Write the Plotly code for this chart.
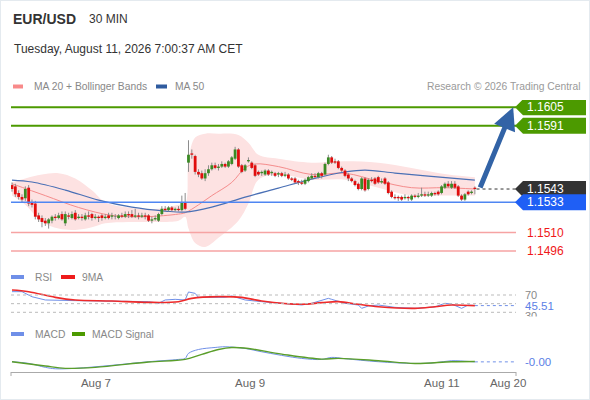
import plotly.graph_objects as go

# ---------------- data ----------------
o = [1.1546,1.1545,1.1540,1.1537,1.1536,1.1544,1.1533,1.1532,1.1523,1.1521,
     1.1519,1.1517,1.1519,1.1522,1.1521,1.1524,1.1517,1.1523,1.1521,1.1525,
     1.1521,1.1522,1.1520,1.1523,1.1524,1.1521,1.1522,1.1523,1.1521,1.1523,
     1.1522,1.1522,1.1521,1.1523,1.1522,1.1524,1.1524,1.1522,1.1523,1.1522,
     1.1523,1.1523,1.1519,1.1520,1.1519,1.1524,1.1528,1.1527,1.1529,1.1527,
     1.1528,1.1527,1.1533,1.1563,1.1570,1.1568,1.1556,1.1555,1.1551,1.1555,
     1.1558,1.1561,1.1559,1.1560,1.1562,1.1560,1.1562,1.1566,1.1573,1.1561,
     1.1557,1.1564,1.1563,1.1561,1.1556,1.1555,1.1554,1.1557,1.1555,1.1555,
     1.1554,1.1555,1.1553,1.1554,1.1551,1.1551,1.1549,1.1548,1.1547,1.1549,
     1.1551,1.1553,1.1552,1.1555,1.1554,1.1562,1.1567,1.1564,1.1564,1.1559,
     1.1557,1.1554,1.1551,1.1549,1.1547,1.1543,1.1551,1.1543,1.1550,1.1551,
     1.1552,1.1548,1.1551,1.1548,1.1541,1.1537,1.1537,1.1537,1.1536,1.1537,
     1.1535,1.1538,1.1537,1.1538,1.1539,1.1538,1.1538,1.1540,1.1541,1.1540,
     1.1544,1.1547,1.1544,1.1547,1.1545,1.1538,1.1535,1.1541,1.1540,1.1544]
h = [1.1548,1.1547,1.1542,1.1539,1.1545,1.1546,1.1535,1.1534,1.1525,1.1523,
     1.1521,1.1521,1.1523,1.1524,1.1525,1.1526,1.1526,1.1525,1.1526,1.1527,
     1.1524,1.1524,1.1525,1.1526,1.1525,1.1524,1.1523,1.1524,1.1524,1.1525,
     1.1525,1.1524,1.1524,1.1525,1.1526,1.1526,1.1527,1.1528,1.1525,1.1525,
     1.1525,1.1524,1.1522,1.1523,1.1525,1.1530,1.1530,1.1530,1.1530,1.1529,
     1.1530,1.1538,1.1540,1.1580,1.1573,1.1569,1.1558,1.1557,1.1558,1.1561,
     1.1563,1.1563,1.1562,1.1564,1.1563,1.1565,1.1568,1.1575,1.1574,1.1562,
     1.1562,1.1567,1.1564,1.1562,1.1557,1.1557,1.1558,1.1558,1.1557,1.1556,
     1.1556,1.1556,1.1556,1.1555,1.1552,1.1552,1.1550,1.1550,1.1551,1.1553,
     1.1555,1.1555,1.1556,1.1556,1.1563,1.1569,1.1568,1.1566,1.1565,1.1560,
     1.1558,1.1555,1.1552,1.1550,1.1548,1.1552,1.1552,1.1551,1.1552,1.1552,
     1.1553,1.1551,1.1552,1.1549,1.1542,1.1539,1.1538,1.1538,1.1539,1.1538,
     1.1539,1.1539,1.1540,1.1544,1.1541,1.1541,1.1541,1.1541,1.1542,1.1546,
     1.1548,1.1549,1.1549,1.1549,1.1546,1.1539,1.1540,1.1542,1.1542,1.1545]
l = [1.1541,1.1537,1.1535,1.1533,1.1534,1.1530,1.1529,1.1520,1.1518,1.1514,
     1.1515,1.1513,1.1517,1.1519,1.1520,1.1519,1.1515,1.1520,1.1520,1.1519,
     1.1520,1.1519,1.1519,1.1520,1.1519,1.1520,1.1518,1.1519,1.1520,1.1520,
     1.1520,1.1520,1.1520,1.1521,1.1521,1.1521,1.1521,1.1521,1.1520,1.1521,
     1.1520,1.1518,1.1517,1.1519,1.1518,1.1523,1.1526,1.1526,1.1526,1.1526,
     1.1526,1.1526,1.1527,1.1556,1.1566,1.1554,1.1552,1.1550,1.1549,1.1553,
     1.1557,1.1558,1.1557,1.1559,1.1559,1.1559,1.1561,1.1565,1.1559,1.1555,
     1.1556,1.1563,1.1558,1.1552,1.1553,1.1553,1.1553,1.1553,1.1553,1.1552,
     1.1552,1.1552,1.1552,1.1550,1.1549,1.1547,1.1546,1.1546,1.1546,1.1548,
     1.1550,1.1551,1.1551,1.1551,1.1553,1.1561,1.1562,1.1562,1.1558,1.1556,
     1.1552,1.1549,1.1548,1.1545,1.1542,1.1542,1.1541,1.1542,1.1548,1.1546,
     1.1547,1.1547,1.1546,1.1539,1.1536,1.1535,1.1534,1.1534,1.1535,1.1534,
     1.1534,1.1536,1.1536,1.1537,1.1537,1.1537,1.1537,1.1538,1.1538,1.1539,
     1.1543,1.1544,1.1543,1.1543,1.1537,1.1534,1.1534,1.1538,1.1539,1.1539]
c = [1.1543,1.1539,1.1537,1.1535,1.1543,1.1532,1.1531,1.1522,1.1520,1.1518,
     1.1517,1.1520,1.1522,1.1521,1.1523,1.1520,1.1524,1.1522,1.1524,1.1520,
     1.1522,1.1521,1.1523,1.1522,1.1521,1.1522,1.1521,1.1521,1.1522,1.1521,
     1.1523,1.1522,1.1523,1.1522,1.1524,1.1523,1.1522,1.1523,1.1522,1.1523,
     1.1522,1.1519,1.1520,1.1521,1.1524,1.1528,1.1527,1.1529,1.1527,1.1528,
     1.1527,1.1533,1.1528,1.1569,1.1569,1.1556,1.1554,1.1551,1.1555,1.1558,
     1.1561,1.1559,1.1560,1.1562,1.1560,1.1564,1.1567,1.1573,1.1560,1.1556,
     1.1561,1.1565,1.1559,1.1553,1.1554,1.1556,1.1557,1.1554,1.1556,1.1553,
     1.1555,1.1553,1.1554,1.1551,1.1550,1.1548,1.1548,1.1547,1.1550,1.1552,
     1.1553,1.1552,1.1555,1.1553,1.1562,1.1567,1.1563,1.1563,1.1559,1.1557,
     1.1553,1.1551,1.1549,1.1546,1.1543,1.1551,1.1542,1.1550,1.1549,1.1547,
     1.1548,1.1549,1.1547,1.1540,1.1537,1.1536,1.1536,1.1535,1.1537,1.1536,
     1.1538,1.1537,1.1538,1.1539,1.1538,1.1539,1.1540,1.1539,1.1539,1.1545,
     1.1547,1.1545,1.1547,1.1544,1.1538,1.1535,1.1539,1.1539,1.1541,1.1543]

ma20_idx = [0, 10, 20, 30, 40, 50, 52, 56, 60, 66, 70, 73, 80, 90, 100, 110, 120, 130, 139]
ma20_val = [1.1547, 1.1538, 1.1529, 1.1523, 1.1522, 1.1524, 1.1525, 1.1531, 1.1538, 1.1548,
            1.1559, 1.1562, 1.1560, 1.1554, 1.1555, 1.1549, 1.1544, 1.1544, 1.1543]

ma50_idx = [0, 6, 16, 26, 36, 46, 52, 60, 70, 80, 90, 100, 106, 115, 125, 139]
ma50_val = [1.15498, 1.15483, 1.15422, 1.15346, 1.15293, 1.15263, 1.15255, 1.15293, 1.15369,
            1.15437, 1.15505, 1.15559, 1.15574, 1.15551, 1.15528, 1.15498]

bb_idx = [0, 4, 9, 14, 19, 24, 28, 35, 44, 50, 52, 53, 55, 58, 62, 68, 71, 74, 80, 90, 100, 110, 120, 131, 139]
bb_upper = [1.1548, 1.1551, 1.1554, 1.1555, 1.1551, 1.1542, 1.1533, 1.1529, 1.1528, 1.1531, 1.1532,
            1.1565, 1.1582, 1.1585, 1.1585, 1.1584, 1.1578, 1.1569, 1.1566, 1.1563, 1.1564, 1.1563,
            1.1559, 1.1554, 1.1552]
bb_lower = [1.1538, 1.1531, 1.1518, 1.1513, 1.1512, 1.1514, 1.1517, 1.1518, 1.1518, 1.1519, 1.1522,
            1.1513, 1.1502, 1.1499, 1.1506, 1.1519, 1.1532, 1.1550, 1.1554, 1.1550, 1.1550, 1.1544,
            1.1538, 1.1538, 1.1538]

rsi_idx = [0, 3, 6, 10, 19, 30, 41, 44, 46, 49, 52, 53, 54, 55, 56, 64, 66, 70, 75, 87, 90, 95, 96,
           100, 104, 105, 107, 110, 115, 121, 127, 130, 132, 135, 137, 139]
rsi_val = [77.7, 77.7, 66.0, 58.5, 57.0, 56.0, 54.6, 50.8, 58.5, 60.0, 58.5, 77.0, 75.0, 73.8, 64.6,
           64.6, 67.7, 58.5, 54.6, 46.9, 50.8, 62.3, 60.0, 50.8, 46.9, 39.2, 44.6, 46.9, 41.5, 39.2,
           42.5, 50.8, 49.2, 39.2, 46.9, 45.51]
rsi_ma_idx = [0, 5, 13, 19, 30, 41, 50, 54, 62, 69, 75, 87, 93, 98, 104, 110, 121, 127, 132, 139]
rsi_ma_val = [81.5, 77.7, 64.6, 58.5, 56.2, 53.0, 54.6, 62.3, 66.2, 64.6, 56.2, 48.5, 52.3, 54.6,
              48.5, 43.0, 39.2, 43.0, 46.9, 45.4]

macd_idx = [0, 5, 10, 13, 19, 30, 41, 50, 52, 53, 56, 61, 64, 70, 75, 87, 93, 96, 100, 110, 121,
            127, 132, 137, 139]
macd_val = [0.0, -0.000116, -0.00039, -0.00049, -0.00046, -0.00025, 0.0, 0.00016, 0.00023, 0.00058,
            0.00085, 0.00099, 0.00104, 0.00092, 0.00069, 0.00023, 0.00016, 0.00030, 0.00021, 0.0,
            -0.00012, -0.00007, 0.00007, 0.00002, -0.00001]
sig_idx = [0, 10, 16, 25, 41, 52, 57, 62, 66, 71, 81, 93, 98, 110, 121, 132, 139]
sig_val = [0.0, -0.00030, -0.00046, -0.00039, -0.00002, 0.00016, 0.00051, 0.00085, 0.00099,
           0.00092, 0.00053, 0.00018, 0.00023, 0.00007, -0.00012, 0.0, 0.00002]

resistance = [1.1605, 1.1591]
support = [1.1533]
minor_levels = [1.1510, 1.1496]
last_price = c[-1]
target_index = 150.5

tick_index = [25.2, 71.5, 129.1, 149]
tick_labels = ["Aug 7", "Aug 9", "Aug 11", "Aug 20"]

# ---------------- helpers ----------------
W, H = 590, 400
def X(px): return px / W
def Y(py): return 1 - py / H

FONT = "Liberation Sans, Arial, sans-serif"
N = len(c)
idx = list(range(N))
X_END = 151.35

fig = go.Figure()

# Bollinger band fill
fig.add_trace(go.Scatter(x=bb_idx, y=bb_lower, mode="lines",
                         line=dict(width=0, shape="spline", smoothing=1.0),
                         hoverinfo="skip", showlegend=False))
fig.add_trace(go.Scatter(x=bb_idx, y=bb_upper, mode="lines",
                         line=dict(width=0, shape="spline", smoothing=1.0),
                         fill="tonexty", fillcolor="#fde2e2",
                         hoverinfo="skip", showlegend=False))
# moving averages
fig.add_trace(go.Scatter(x=ma20_idx, y=ma20_val, mode="lines",
                         line=dict(color="#f58c8c", width=1, shape="spline"),
                         showlegend=False))
fig.add_trace(go.Scatter(x=ma50_idx, y=ma50_val, mode="lines",
                         line=dict(color="#4a70b5", width=1.2, shape="spline"),
                         showlegend=False))
# wicks
wx, wy = [], []
for i in idx:
    wx += [i, i, None]
    wy += [l[i], h[i], None]
fig.add_trace(go.Scatter(x=wx, y=wy, mode="lines",
                         line=dict(color="#8c8c8c", width=1), showlegend=False,
                         hoverinfo="skip"))
# bodies (drawn as thick segments so they sit above the band fill)
MIN_BODY = 0.00003
groups = {"#3a8a24": [], "#e00d0d": [], "#555555": []}
for i in idx:
    if c[i] > o[i]:
        col = "#3a8a24"
    elif c[i] < o[i]:
        col = "#e00d0d"
    else:
        col = "#555555"
    lo_, hi_ = min(o[i], c[i]), max(o[i], c[i])
    if hi_ - lo_ < MIN_BODY:
        mid = (hi_ + lo_) / 2
        lo_, hi_ = mid - MIN_BODY / 2, mid + MIN_BODY / 2
    groups[col].append((i, lo_, hi_))
for col, segs in groups.items():
    bx, by = [], []
    for i, a, b in segs:
        bx += [i, i, None]
        by += [a, b, None]
    fig.add_trace(go.Scatter(x=bx, y=by, mode="lines", line=dict(color=col, width=2.8),
                             showlegend=False, hoverinfo="skip"))

# RSI
fig.add_trace(go.Scatter(x=rsi_idx, y=rsi_val, yaxis="y2", mode="lines",
                         line=dict(color="#7090e8", width=1), showlegend=False))
fig.add_trace(go.Scatter(x=rsi_ma_idx, y=rsi_ma_val, yaxis="y2", mode="lines",
                         line=dict(color="#ee2a2a", width=1.6, shape="spline"),
                         showlegend=False))
# MACD
fig.add_trace(go.Scatter(x=macd_idx, y=macd_val, yaxis="y3", mode="lines",
                         line=dict(color="#7090e8", width=1, shape="spline"),
                         showlegend=False))
fig.add_trace(go.Scatter(x=sig_idx, y=sig_val, yaxis="y3", mode="lines",
                         line=dict(color="#5a9e2a", width=1.4, shape="spline"),
                         showlegend=False))

shapes = []
annotations = []

# level lines
for lv in resistance:
    shapes.append(dict(type="line", xref="x domain", x0=0, x1=1, yref="y", y0=lv, y1=lv,
                       line=dict(color="#4c9a00", width=2)))
for lv in support:
    shapes.append(dict(type="line", xref="x domain", x0=0, x1=1, yref="y", y0=lv, y1=lv,
                       line=dict(color="#4f86f2", width=1.5)))
for lv in minor_levels:
    shapes.append(dict(type="line", xref="x domain", x0=0, x1=1, yref="y", y0=lv, y1=lv,
                       line=dict(color="#f6a3a3", width=1.5)))
# last price dotted
shapes.append(dict(type="line", xref="x", x0=N - 0.5, x1=X_END, yref="y",
                   y0=last_price, y1=last_price, line=dict(color="#333333", width=1, dash="dot")))

# label boxes
def tag(level, color):
    p = (f"M {X(515)},0 L {X(523)},8 L {X(586)},8 L {X(586)},-8 L {X(523)},-8 Z")
    shapes.append(dict(type="path", xref="paper", yref="y", ysizemode="pixel",
                       yanchor=level, path=p, fillcolor=color, line=dict(width=0)))
    annotations.append(dict(xref="paper", yref="y", x=X(525), y=level, xanchor="left",
                            yanchor="middle", text=f"{level:.4f}", showarrow=False,
                            font=dict(family=FONT, size=12, color="white")))

for lv in resistance:
    tag(lv, "#4c9a00")
tag(last_price, "#333333")
for lv in support:
    tag(lv, "#1f5ff5")
for lv in minor_levels:
    annotations.append(dict(xref="paper", yref="y", x=X(525), y=lv, xanchor="left",
                            yanchor="middle", text=f"{lv:.4f}", showarrow=False,
                            font=dict(family=FONT, size=12, color="#f01818")))

# forecast arrow
annotations.append(dict(xref="x", yref="y", axref="x", ayref="y",
                        x=target_index, y=resistance[0], ax=N + 0.4, ay=last_price,
                        text="", showarrow=True, arrowhead=2, arrowsize=0.9,
                        arrowwidth=5, arrowcolor="#3263a6", standoff=0))

# RSI guide lines
for lv in [70, 50, 30]:
    shapes.append(dict(type="line", xref="x domain", x0=0, x1=1, yref="y2", y0=lv, y1=lv,
                       line=dict(color="#bbbbbb", width=1, dash="dot")))
shapes.append(dict(type="line", xref="x", x0=rsi_idx[-1], x1=X_END, yref="y2",
                   y0=rsi_val[-1], y1=rsi_val[-1], line=dict(color="#7090e8", width=1, dash="dot")))
shapes.append(dict(type="line", xref="x", x0=macd_idx[-1], x1=X_END, yref="y3",
                   y0=macd_val[-1], y1=macd_val[-1], line=dict(color="#7090e8", width=1, dash="dot")))

annotations.append(dict(xref="paper", yref="y2", x=X(523), y=70, xanchor="left", yanchor="middle",
                        text="70", showarrow=False, font=dict(family=FONT, size=11, color="#888888")))
annotations.append(dict(xref="paper", yref="y2", x=X(523), y=30, yshift=-4, xanchor="left",
                        yanchor="middle", text="30", showarrow=False,
                        font=dict(family=FONT, size=11, color="#888888")))
annotations.append(dict(xref="paper", yref="paper", x=X(520), y=Y(315.5), xanchor="left",
                        yanchor="top", text=" ", showarrow=False, width=24, height=10,
                        bgcolor="white", borderpad=0))
annotations.append(dict(xref="paper", yref="y2", x=X(523), y=rsi_val[-1], xanchor="left",
                        yanchor="middle", text=f"{rsi_val[-1]:.2f}", showarrow=False,
                        font=dict(family=FONT, size=11.5, color="#5b80e6")))
annotations.append(dict(xref="paper", yref="y3", x=X(523), y=macd_val[-1], xanchor="left",
                        yanchor="middle", text=f"{macd_val[-1]:.2f}", showarrow=False,
                        font=dict(family=FONT, size=11.5, color="#5b80e6")))

# x-axis end ticks
for xd in [0, 1]:
    shapes.append(dict(type="line", xref="x domain", x0=xd, x1=xd, yref="paper",
                       y0=Y(372), y1=Y(376), line=dict(color="#aaaaaa", width=1)))

# header texts
def txt(x, y, s, size, color, anchor="left"):
    annotations.append(dict(xref="paper", yref="paper", x=X(x), y=Y(y), xanchor=anchor,
                            yanchor="middle", text=s, showarrow=False,
                            font=dict(family=FONT, size=size, color=color)))

def swatch(x0, x1, y, color):
    shapes.append(dict(type="rect", xref="paper", yref="paper", x0=X(x0), x1=X(x1),
                       y0=Y(y + 2), y1=Y(y - 2), fillcolor=color, line=dict(width=0)))

txt(11, 19, "<b>EUR/USD</b>", 14, "#333333")
txt(87, 19, "30 MIN", 12, "#333333")
txt(12, 49, "Tuesday, August 11, 2026 7:00:37 AM CET", 12, "#333333")

swatch(13, 23, 86.5, "#f88a8a")
txt(32, 86.5, "MA 20 + Bollinger Bands", 10.3, "#888888")
swatch(156, 167, 86.5, "#2f5b9f")
txt(173, 86.5, "MA 50", 10.3, "#888888")
txt(583, 86.5, "Research © 2026 Trading Central", 10.3, "#9a9a9a", anchor="right")

swatch(11, 24, 277, "#6f8fe8")
txt(33, 277, "RSI", 10.3, "#888888")
swatch(61, 75, 277, "#ee1c1c")
txt(80, 277, "9MA", 10.3, "#888888")

swatch(11, 24, 334, "#6f8fe8")
txt(33, 334, "MACD", 10.3, "#888888")
swatch(72, 85, 334, "#4c9a00")
txt(90, 334, "MACD Signal", 10.3, "#888888")

# border
shapes.append(dict(type="rect", xref="paper", yref="paper", x0=0, x1=1, y0=0, y1=1,
                   line=dict(color="#e4eaef", width=2)))

fig.update_layout(
    width=W, height=H, margin=dict(l=0, r=0, t=0, b=0, pad=0, autoexpand=False),
    paper_bgcolor="white", plot_bgcolor="white",
    showlegend=False, hovermode=False,
    xaxis=dict(domain=[X(11), X(516)], range=[-0.3, X_END], anchor="free", position=Y(372),
               showline=True, linecolor="#aaaaaa", linewidth=1, showgrid=False, zeroline=False,
               automargin=False,
               tickmode="array", tickvals=tick_index, ticktext=tick_labels, ticks="",
               tickfont=dict(family=FONT, size=11.5, color="#666666")),
    yaxis=dict(domain=[Y(258), Y(100)], range=[1.14907, 1.16105], visible=False, automargin=False),
    yaxis2=dict(domain=[Y(314), Y(287)], range=[26.1, 88.5], visible=False, automargin=False),
    yaxis3=dict(domain=[Y(370), Y(340)], range=[-0.000576, 0.00151], visible=False, automargin=False),
    shapes=shapes, annotations=annotations,
)

fig.write_html(
    "out.html",
    config={"displayModeBar": False, "responsive": False},
    post_script=("document.documentElement.style.margin='0px';"
                 "document.documentElement.style.overflow='hidden';"
                 "document.body.style.margin='0px';document.body.style.padding='0px';"
                 "document.body.style.overflow='hidden';"),
)
